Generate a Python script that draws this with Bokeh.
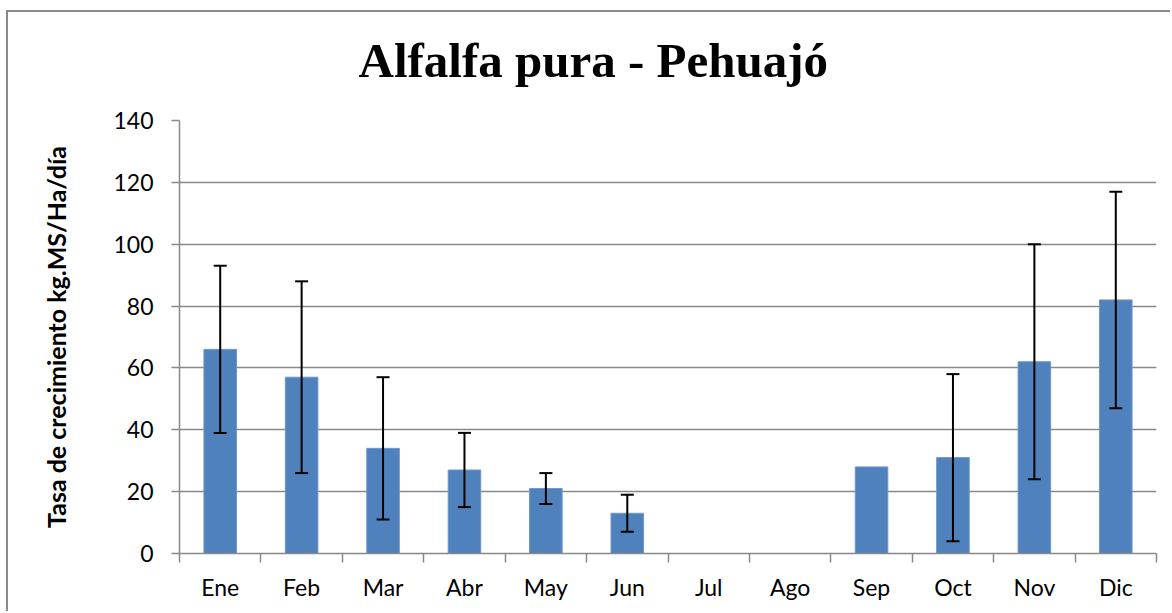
from bokeh.plotting import figure
from bokeh.models import (ColumnDataSource, Range1d, FixedTicker, Whisker, TeeHead, Title)
from bokeh.embed import file_html
from bokeh.resources import INLINE

# ---- data ----
months = ["Ene", "Feb", "Mar", "Abr", "May", "Jun", "Jul", "Ago", "Sep", "Oct", "Nov", "Dic"]
growth = [66, 57, 34, 27, 21, 13, None, None, 28, 31, 62, 82]
err_low = [39, 26, 11, 15, 16, 7, None, None, None, 4, 24, 47]
err_high = [93, 88, 57, 39, 26, 19, None, None, None, 58, 100, 117]
y_ticks = [0, 20, 40, 60, 80, 100, 120, 140]
title_text = "Alfalfa pura - Pehuajó"
y_label = "Tasa de crecimiento kg.MS/Ha/día"

pos = list(range(1, len(months) + 1))
bar_x = [p for p, v in zip(pos, growth) if v is not None]
bar_top = [v for v in growth if v is not None]
wx = [p for p, l in zip(pos, err_low) if l is not None]
wl = [l for l in err_low if l is not None]
wh = [h for h in err_high if h is not None]

GRAY = "#898989"
FONT = "Lato"

p = figure(width=1164, height=601, output_backend="svg", toolbar_location=None,
           x_range=Range1d(0.5, len(months) + 0.5), y_range=Range1d(0, 140),
           min_border_left=171, min_border_right=16, min_border_top=108,
           min_border_bottom=60)
p.styles = {"border-left": f"2px solid {GRAY}", "border-top": f"2px solid {GRAY}",
            "margin-top": "10px", "margin-left": "6px"}
p.outline_line_color = None
p.background_fill_color = "white"
p.border_fill_color = None

p.vbar(x=bar_x, top=bar_top, width=0.4, bottom=0, fill_color="#4F81BD",
       line_color="#6F97C9", line_width=1)

src = ColumnDataSource(dict(x=wx, lower=wl, upper=wh))
w = Whisker(base="x", lower="lower", upper="upper", source=src, level="overlay",
            line_color="black", line_width=2,
            upper_head=TeeHead(size=13, line_color="black", line_width=2),
            lower_head=TeeHead(size=13, line_color="black", line_width=2))
p.add_layout(w)

# x axis
p.xaxis.ticker = FixedTicker(ticks=pos, minor_ticks=[x - 0.5 for x in pos] + [len(pos) + 0.5])
p.xaxis.major_label_overrides = {k: m for k, m in zip(pos, months)}
p.xaxis.major_tick_out = 0
p.xaxis.major_tick_in = 0
p.xaxis.minor_tick_out = 9
p.xaxis.minor_tick_in = 0
p.xaxis.minor_tick_line_color = GRAY
p.xaxis.minor_tick_line_width = 1.5
p.xaxis.axis_line_color = GRAY
p.xaxis.axis_line_width = 1.5
p.xaxis.major_label_standoff = 10
p.xaxis.major_label_text_font = FONT
p.xaxis.major_label_text_font_size = "23px"
p.xaxis.major_label_text_color = "black"

# y axis
p.yaxis.ticker = FixedTicker(ticks=y_ticks)
p.yaxis.major_tick_out = 8
p.yaxis.major_tick_in = 0
p.yaxis.major_tick_line_color = GRAY
p.yaxis.major_tick_line_width = 1.5
p.yaxis.minor_tick_line_color = None
p.yaxis.axis_line_color = GRAY
p.yaxis.axis_line_width = 1.5
p.yaxis.major_label_standoff = 18
p.yaxis.major_label_text_font = FONT
p.yaxis.major_label_text_font_size = "23px"
p.yaxis.major_label_text_color = "black"
p.yaxis.axis_label = y_label
p.yaxis.axis_label_text_font = FONT
p.yaxis.axis_label_text_font_style = "bold"
p.yaxis.axis_label_text_font_size = "25px"
p.yaxis.axis_label_text_color = "black"
p.yaxis.axis_label_standoff = 39

p.xgrid.grid_line_color = None
p.ygrid.grid_line_color = GRAY
p.ygrid.grid_line_width = 1.5

# spacer between title and frame (closest to the frame)
p.add_layout(Title(text=" ", text_font_size="1px", standoff=28), "above")

# main title (outermost)
p.title.text = title_text
p.title.text_font = "Liberation Serif"
p.title.text_font_style = "bold"
p.title.text_font_size = "49px"
p.title.text_color = "black"
p.title.align = "left"
p.title.offset = 179
p.title.vertical_align = "top"
p.title.standoff = 0

open("out.html", "w").write(file_html(p, INLINE))
